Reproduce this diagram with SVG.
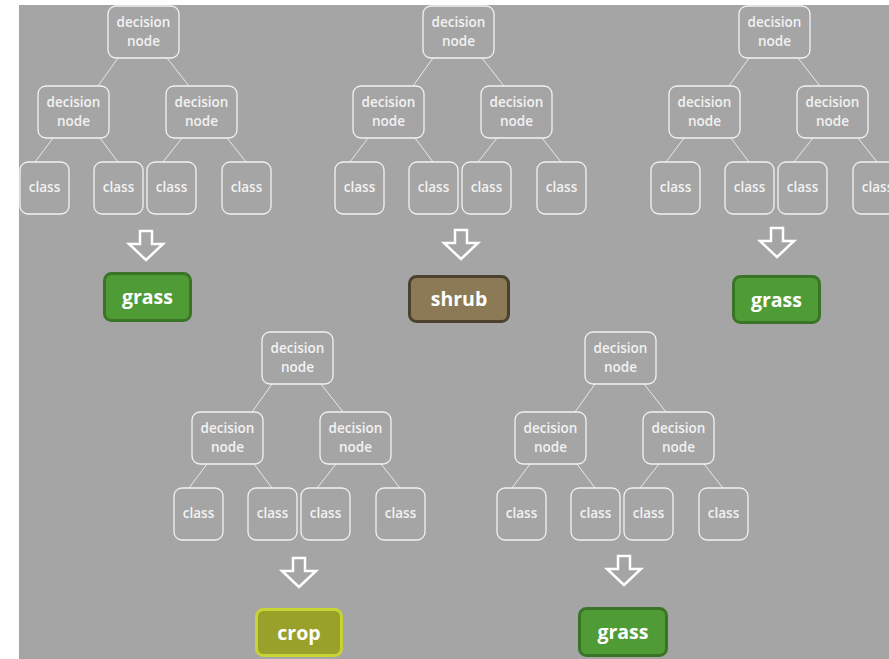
<svg xmlns="http://www.w3.org/2000/svg" xmlns:xlink="http://www.w3.org/1999/xlink" width="889" height="659" viewBox="0 0 889 659">
  <style>
    .box { fill: none; stroke: #f2f2f2; stroke-width: 1.3; }
    .lbl { fill: #f2f2f2; font-family: "Open Sans", "Liberation Sans", sans-serif; font-weight: 600; font-size: 13.5px; text-anchor: middle; }
    .link { stroke: #e8e8e8; stroke-width: 1; fill: none; }
    .down { fill: #a5a5a5; stroke: #ffffff; stroke-width: 2.5; stroke-linejoin: miter; }
    .res { stroke-width: 3; }
    .restext { fill: #ffffff; font-family: "Open Sans", "Liberation Sans", sans-serif; font-weight: 700; font-size: 19.5px; text-anchor: middle; }
  </style>
  <defs>
    <!-- hollow block arrow, origin at the top centre of its shaft -->
    <path id="downArrow" class="down" d="M-6,0 L6,0 L6,13 L17,13 L0,29 L-17,13 L-6,13 Z"/>
    <!-- one three-level tree; origin at the root box's top-left corner -->
    <g id="tree">
      <g class="connectors">
        <line class="link" x1="10" y1="52" x2="-10" y2="80"/>
        <line class="link" x1="59" y1="52" x2="81" y2="80"/>
        <line class="link" x1="-55" y1="132" x2="-73" y2="156"/>
        <line class="link" x1="-8" y1="132" x2="10" y2="156"/>
        <line class="link" x1="74" y1="132" x2="55" y2="156"/>
        <line class="link" x1="119" y1="132" x2="138" y2="156"/>
      </g>
      <g class="root">
        <rect class="box" x="0" y="0" width="71" height="52" rx="8"/>
        <text class="lbl" x="35.5" y="21">decision</text>
        <text class="lbl" x="35.5" y="40">node</text>
      </g>
      <g class="decision-left">
        <rect class="box" x="-70" y="80" width="71" height="52" rx="8"/>
        <text class="lbl" x="-34.5" y="101">decision</text>
        <text class="lbl" x="-34.5" y="120">node</text>
      </g>
      <g class="decision-right">
        <rect class="box" x="58" y="80" width="71" height="52" rx="8"/>
        <text class="lbl" x="93.5" y="101">decision</text>
        <text class="lbl" x="93.5" y="120">node</text>
      </g>
      <g class="class-1">
        <rect class="box" x="-88" y="156" width="49" height="52" rx="8"/>
        <text class="lbl" x="-63.5" y="186">class</text>
      </g>
      <g class="class-2">
        <rect class="box" x="-14" y="156" width="49" height="52" rx="8"/>
        <text class="lbl" x="10.5" y="186">class</text>
      </g>
      <g class="class-3">
        <rect class="box" x="39" y="156" width="49" height="52" rx="8"/>
        <text class="lbl" x="63.5" y="186">class</text>
      </g>
      <g class="class-4">
        <rect class="box" x="114" y="156" width="49" height="52" rx="8"/>
        <text class="lbl" x="138.5" y="186">class</text>
      </g>
    </g>
  </defs>

  <rect x="0" y="0" width="889" height="659" fill="#ffffff"/>
  <rect x="19" y="5" width="870" height="654" fill="#a5a5a5"/>

  <!-- the five trees -->
  <g id="tree1"><use xlink:href="#tree" href="#tree" x="108" y="6"/></g>
  <g id="tree2"><use xlink:href="#tree" href="#tree" x="423" y="6"/></g>
  <g id="tree3"><use xlink:href="#tree" href="#tree" x="739" y="6"/></g>
  <g id="tree4"><use xlink:href="#tree" href="#tree" x="262" y="332"/></g>
  <g id="tree5"><use xlink:href="#tree" href="#tree" x="585" y="332"/></g>

  <!-- arrows from each tree to its vote -->
  <g id="arrows">
    <use xlink:href="#downArrow" href="#downArrow" x="146" y="231"/>
    <use xlink:href="#downArrow" href="#downArrow" x="461" y="230"/>
    <use xlink:href="#downArrow" href="#downArrow" x="777" y="228"/>
    <use xlink:href="#downArrow" href="#downArrow" x="299" y="558"/>
    <use xlink:href="#downArrow" href="#downArrow" x="624" y="556"/>
  </g>

  <!-- votes -->
  <g id="vote1">
    <rect class="res" x="104.5" y="273.5" width="86" height="47" rx="7" fill="#4f9b36" stroke="#3a7527"/>
    <text class="restext" x="147.5" y="304">grass</text>
  </g>
  <g id="vote2">
    <rect class="res" x="409.5" y="276.5" width="99" height="45" rx="7" fill="#8b7a55" stroke="#4b4130"/>
    <text class="restext" x="459" y="306">shrub</text>
  </g>
  <g id="vote3">
    <rect class="res" x="733.5" y="276.5" width="86" height="46" rx="7" fill="#4f9b36" stroke="#3a7527"/>
    <text class="restext" x="776.5" y="307">grass</text>
  </g>
  <g id="vote4">
    <rect class="res" x="256.5" y="609.5" width="85" height="46" rx="7" fill="#9aa12a" stroke="#c6d533"/>
    <text class="restext" x="299" y="640">crop</text>
  </g>
  <g id="vote5">
    <rect class="res" x="579.5" y="608.5" width="87" height="47" rx="7" fill="#4f9b36" stroke="#3a7527"/>
    <text class="restext" x="623" y="639">grass</text>
  </g>
</svg>
